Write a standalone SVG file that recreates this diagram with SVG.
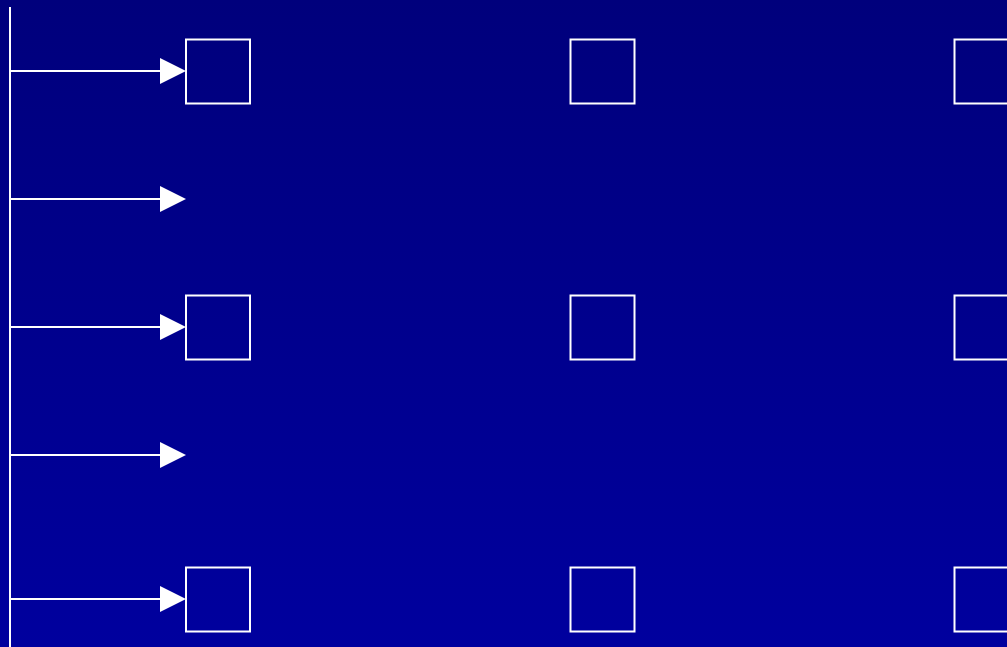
<svg xmlns="http://www.w3.org/2000/svg" width="1007" height="647" viewBox="0 0 1007 647">
<defs>
<linearGradient id="bg" x1="0" y1="0" x2="0" y2="1">
<stop offset="0" stop-color="#00007c"/>
<stop offset="1" stop-color="#00009e"/>
</linearGradient>
<style>
.box{fill:none;stroke:#ffffff;stroke-width:2}
.ln{stroke:#ffffff;stroke-width:2;fill:none}
.ah{fill:#ffffff}
</style>
</defs>
<rect width="1007" height="647" fill="url(#bg)"/>
<g id="connectors">
<line class="ln" x1="10" y1="7" x2="10" y2="647"/>
<line class="ln" x1="10" y1="71" x2="162" y2="71"/>
<polygon class="ah" points="160,58 186,71 160,84"/>
<line class="ln" x1="10" y1="199" x2="162" y2="199"/>
<polygon class="ah" points="160,186 186,199 160,212"/>
<line class="ln" x1="10" y1="327" x2="162" y2="327"/>
<polygon class="ah" points="160,314 186,327 160,340"/>
<line class="ln" x1="10" y1="455" x2="162" y2="455"/>
<polygon class="ah" points="160,442 186,455 160,468"/>
<line class="ln" x1="10" y1="599" x2="162" y2="599"/>
<polygon class="ah" points="160,586 186,599 160,612"/>
</g>
<g id="n11"><rect class="box" x="186" y="39.5" width="64" height="64"/></g>
<g id="n12"><rect class="box" x="570.5" y="39.5" width="64" height="64"/></g>
<g id="n13"><rect class="box" x="954.5" y="39.5" width="64" height="64"/></g>
<g id="n21"><rect class="box" x="186" y="295.5" width="64" height="64"/></g>
<g id="n22"><rect class="box" x="570.5" y="295.5" width="64" height="64"/></g>
<g id="n23"><rect class="box" x="954.5" y="295.5" width="64" height="64"/></g>
<g id="n31"><rect class="box" x="186" y="567.5" width="64" height="64"/></g>
<g id="n32"><rect class="box" x="570.5" y="567.5" width="64" height="64"/></g>
<g id="n33"><rect class="box" x="954.5" y="567.5" width="64" height="64"/></g>
</svg>
